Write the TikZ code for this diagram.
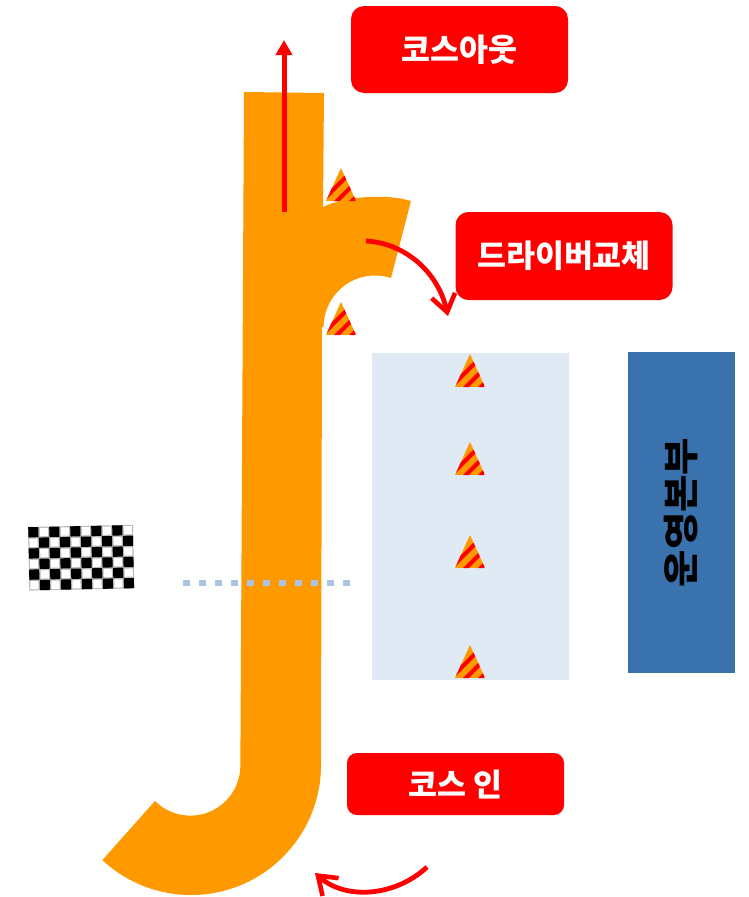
\documentclass[tikz,border=0pt]{standalone}
\usepackage{fontspec}
\newfontfamily\korfont{Noto Sans CJK KR}
\usetikzlibrary{arrows.meta, positioning, calc}

\definecolor{trackorange}{HTML}{FF9900}
\definecolor{boxred}{HTML}{FF0000}
\definecolor{pitblue}{HTML}{E0EAF4}
\definecolor{hqblue}{HTML}{3A72AE}
\definecolor{dotblue}{HTML}{A9C4E4}

\begin{document}
\begin{tikzpicture}[
    x=1pt, y=-1pt,
    every node/.style={font=\korfont\bfseries},
    labelbox/.style={fill=boxred, text=white, rounded corners=13pt, inner sep=0pt,
        minimum width=217pt, font=\korfont\bfseries\fontsize{31.5}{36}\selectfont},
    redarrow/.style={boxred, line width=4.8pt, -{Straight Barb[length=17pt, width=24pt, line width=4.6pt]}},
    exitarrow/.style={boxred, line width=5pt, -{Triangle[length=15pt, width=16pt]}},
    pics/cone/.style={code={
        \begin{scope}
            \clip (0,0) -- (15,33) -- (-15,33) -- cycle;
            \fill[trackorange] (-15,0) rectangle (15,33);
            \foreach \s in {14,29,44} {
                \draw[boxred, line width=4.2pt] (\s+20,-20) -- (\s-40,40);
            }
        \end{scope}
    }}
]
    \useasboundingbox (0,0) rectangle (748,897);

    % 1. track
    \fill[trackorange] (244,92) -- (324,93) -- (323,207)
        .. controls (342,197) and (385,193) .. (411,201)
        -- (391,278) arc[start angle=-72, end angle=-180, radius=51.5]
        -- (322,327) -- (321,765)
        arc[start angle=0, end angle=133, radius=130]
        -- (155,801)
        arc[start angle=135, end angle=0, radius=50]
        -- cycle;

    % 2. pit area and building
    \fill[pitblue] (372,353) rectangle (569,680);
    \node[fill=hqblue, minimum width=107pt, minimum height=321pt, inner sep=0pt] (hq) at (681.5,512.5) {};
    \node[rotate=90, xscale=1.13, font=\korfont\bfseries\fontsize{36}{40}\selectfont, inner sep=0pt] (hqtext) at (hq) {운영본부};

    % 3. cones
    \foreach \x/\y in {341/168, 341/302, 470/354, 470/442, 470/535, 470/645} {
        \pic at (\x,\y) {cone};
    }

    % 4. checkered flag
    \begin{scope}[shift={(28,527)}, rotate=1.2]
        \fill[gray!55] (0,0) rectangle (105,63.6);
        \foreach \i in {0,...,9} {
            \foreach \j in {0,...,5} {
                \pgfmathparse{int(mod(\i+\j,2))}
                \ifnum\pgfmathresult=0
                    \fill[black] (\i*10.5+0.2,\j*10.6+0.2) rectangle ++(10.1,10.2);
                \else
                    \fill[white] (\i*10.5+1.2,\j*10.6+1.2) rectangle ++(8.1,8.2);
                \fi
            }
        }
    \end{scope}

    % 5. start line
    \coordinate (lineA) at (183,583);
    \coordinate (lineB) at (352,583);
    \draw[dotblue, line width=6.5pt, dash pattern=on 7pt off 9pt] (lineA) -- (lineB);

    % 6. labels
    \node[labelbox, minimum height=87pt] (out) at (459.5,49.5) {코스아웃};
    \node[labelbox, minimum height=88pt] (swap) at (564,256) {드라이버교체};
    \node[labelbox, minimum height=62pt, rounded corners=10pt] (in) at (455.5,784) {코스 인};

    % 7. arrows
    \coordinate (exitA) at (284,212);
    \coordinate (exitB) at (284,40);
    \draw[exitarrow] (exitA) -- (exitB);
    \coordinate (swapA) at (366,241);
    \coordinate (swapB) at (448,316);
    \draw[redarrow] (swapA) .. controls (405,243) and (438,272) .. (swapB);
    \coordinate (inA) at (427,867);
    \coordinate (inB) at (315,873);
    \draw[redarrow] (inA) .. controls (395,897) and (345,900) .. (inB);
\end{tikzpicture}
\end{document}
